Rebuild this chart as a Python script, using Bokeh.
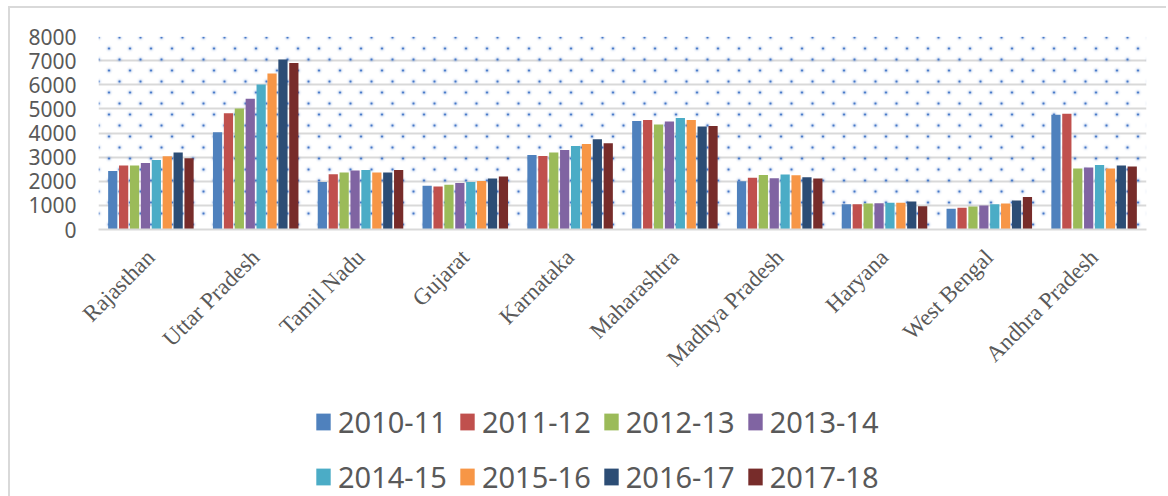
import math
import zlib
import struct
import base64
from math import pi
from bokeh.plotting import figure
from bokeh.layouts import column
from bokeh.models import (FactorRange, Range1d, Legend, LegendItem, BoxAnnotation,
                          ImageURLTexture, ColumnDataSource)
from bokeh.transform import dodge
from bokeh.embed import file_html
from bokeh.resources import INLINE

states = ["Rajasthan", "Uttar Pradesh", "Tamil Nadu", "Gujarat", "Karnataka",
          "Maharashtra", "Madhya Pradesh", "Haryana", "West Bengal", "Andhra Pradesh"]
years = ["2010-11", "2011-12", "2012-13", "2013-14",
         "2014-15", "2015-16", "2016-17", "2017-18"]

v2010_11 = [2420, 4030, 1970, 1810, 3090, 4500, 2000, 1050, 860, 4760]
v2011_12 = [2650, 4815, 2290, 1780, 3050, 4540, 2150, 1050, 900, 4800]
v2012_13 = [2650, 5020, 2360, 1860, 3190, 4350, 2260, 1075, 950, 2525]
v2013_14 = [2760, 5420, 2450, 1930, 3300, 4480, 2125, 1090, 990, 2565]
v2014_15 = [2885, 6015, 2470, 1970, 3460, 4620, 2280, 1105, 1050, 2675]
v2015_16 = [3035, 6470, 2360, 2015, 3545, 4540, 2250, 1105, 1075, 2525]
v2016_17 = [3190, 7050, 2360, 2110, 3740, 4265, 2165, 1160, 1200, 2650]
v2017_18 = [2950, 6900, 2470, 2195, 3575, 4290, 2110, 965, 1350, 2610]

y_ticks = [0, 1000, 2000, 3000, 4000, 5000, 6000, 7000, 8000]

series = [v2010_11, v2011_12, v2012_13, v2013_14, v2014_15, v2015_16, v2016_17, v2017_18]
colors = ["#4F81BD", "#C0504D", "#9BBB59", "#8064A2",
          "#4BACC6", "#F79646", "#2C4D75", "#772C2A"]


def dot_tile_png():
    """Small repeating tile (21x22) with two soft blue dots (Excel 'dotted' fill)."""
    w, h = 21, 22
    centers = [(4.5, 7.5), (15.0, 18.5)]
    rows = []
    for j in range(h):
        row = bytearray(b"\x00")
        for i in range(w):
            a = 0.0
            for cx, cy in centers:
                for ox in (-w, 0, w):
                    for oy in (-h, 0, h):
                        d2 = (i + 0.5 - cx - ox) ** 2 + (j + 0.5 - cy - oy) ** 2
                        a += 220 * math.exp(-d2 / 1.3) + 70 * math.exp(-d2 / 5.0)
            row += bytes([70, 120, 200, min(255, int(a))])
        rows.append(bytes(row))
    raw = b"".join(rows)

    def chunk(t, d):
        c = struct.pack(">I", len(d)) + t + d
        return c + struct.pack(">I", zlib.crc32(t + d) & 0xFFFFFFFF)

    png = (b"\x89PNG\r\n\x1a\n" + chunk(b"IHDR", struct.pack(">IIBBBBB", w, h, 8, 6, 0, 0, 0))
           + chunk(b"IDAT", zlib.compress(raw)) + chunk(b"IEND", b""))
    return "data:image/png;base64," + base64.b64encode(png).decode()


data = {"state": states}
for y, s in zip(years, series):
    data[y] = s
source = ColumnDataSource(data)

p = figure(width=1156, height=391, x_range=FactorRange(*states, range_padding=0),
           y_range=Range1d(0, 8000), output_backend="svg", toolbar_location=None,
           min_border_left=88, min_border_right=20, min_border_top=28,
           min_border_bottom=170)
p.outline_line_color = None
p.background_fill_color = "white"

dots = ImageURLTexture(url=dot_tile_png(), repetition="repeat")
pattern = BoxAnnotation(fill_alpha=0, line_alpha=0,
                        hatch_extra={"dots": dots}, hatch_pattern="dots",
                        hatch_color="#4F81BD", level="underlay")
p.add_layout(pattern)

n = len(years)
step = 0.104
for i, (y, c) in enumerate(zip(years, colors)):
    p.vbar(x=dodge("state", (i - (n - 1) / 2) * step, range=p.x_range), top=y,
           width=0.088, source=source, fill_color=c, line_color=None)

p.xgrid.grid_line_color = None
p.ygrid.grid_line_color = "#d9d9d9"
p.ygrid.grid_line_width = 2
p.yaxis.ticker = y_ticks

p.yaxis.axis_line_color = None
p.yaxis.major_tick_line_color = None
p.yaxis.minor_tick_line_color = None
p.yaxis.major_tick_out = 0
p.yaxis.major_label_standoff = 22
p.yaxis.major_label_text_font = "Noto Sans"
p.yaxis.major_label_text_font_size = "21px"
p.yaxis.major_label_text_color = "#595959"

p.xaxis.axis_line_color = "#d9d9d9"
p.xaxis.axis_line_width = 2
p.xaxis.major_tick_line_color = None
p.xaxis.minor_tick_line_color = None
p.xaxis.major_tick_out = 0
p.xaxis.major_label_orientation = pi / 4
p.xaxis.major_label_standoff = 24
p.xaxis.major_label_text_font = "Liberation Serif"
p.xaxis.major_label_text_font_size = "23px"
p.xaxis.major_label_text_color = "#595959"

# legend strip below the chart; swatch renderers are zero-height bars (invisible)
q = figure(width=1156, height=97, output_backend="svg", toolbar_location=None,
           x_axis_location=None, y_axis_location=None, y_range=Range1d(1, 2),
           min_border_left=0, min_border_right=0, min_border_top=0, min_border_bottom=0)
q.outline_line_color = None
q.grid.grid_line_color = None
swatches = [q.vbar(x=[0], top=[0], bottom=[0], width=1, fill_color=c, line_color=None)
            for c in colors]

legend_style = dict(orientation="horizontal",
                    label_text_font="Noto Sans", label_text_font_size="29px",
                    label_text_color="#595959", glyph_width=18, glyph_height=21,
                    label_standoff=6, spacing=11, padding=0, margin=0,
                    border_line_color=None, background_fill_alpha=0)
legend1 = Legend(items=[LegendItem(label=years[i], renderers=[swatches[i]]) for i in range(0, 4)],
                 location=(216, 55), **legend_style)
legend2 = Legend(items=[LegendItem(label=years[i], renderers=[swatches[i]]) for i in range(4, 8)],
                 location=(216, 0), **legend_style)
q.add_layout(legend1, "center")
q.add_layout(legend2, "center")

layout = column(p, q, spacing=0,
                styles={"border-left": "2px solid #d9d9d9", "border-top": "2px solid #d9d9d9",
                        "margin-left": "8px", "margin-top": "6px"})

open("out.html", "w").write(file_html(layout, INLINE))
